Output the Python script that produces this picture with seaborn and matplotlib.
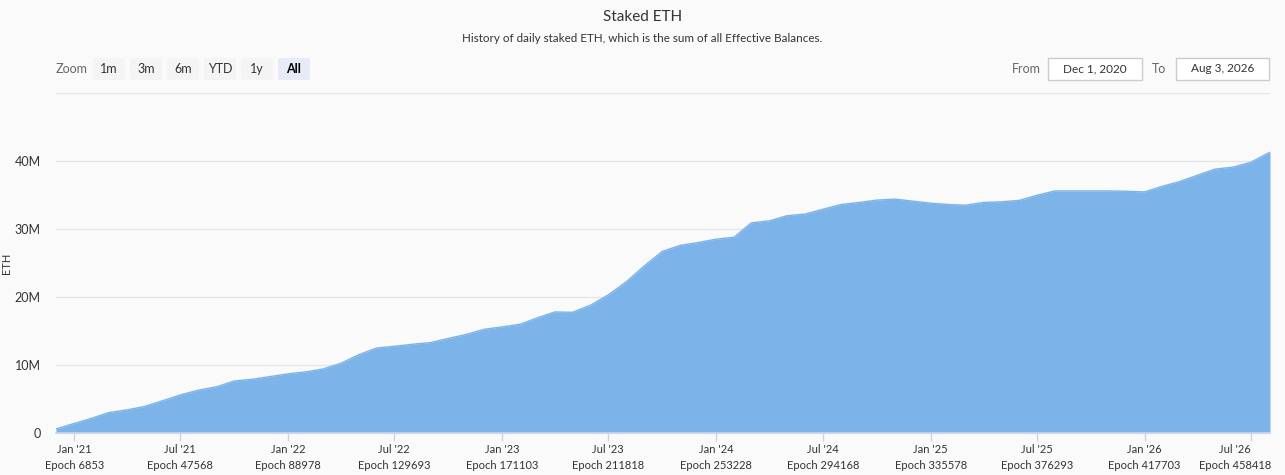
import matplotlib.pyplot as plt
import matplotlib.patches as mpatches
import matplotlib.transforms as mtransforms
import seaborn as sns
import pandas as pd

# monthly staked ETH (millions)
dates = [
    "2020-12-01", "2021-01-01", "2021-02-01", "2021-03-01", "2021-04-01", "2021-05-01",
    "2021-06-01", "2021-07-01", "2021-08-01", "2021-09-01", "2021-10-01", "2021-11-01",
    "2021-12-01", "2022-01-01", "2022-02-01", "2022-03-01", "2022-04-01", "2022-05-01",
    "2022-06-01", "2022-07-01", "2022-08-01", "2022-09-01", "2022-10-01", "2022-11-01",
    "2022-12-01", "2023-01-01", "2023-02-01", "2023-03-01", "2023-04-01", "2023-05-01",
    "2023-06-01", "2023-07-01", "2023-08-01", "2023-09-01", "2023-10-01", "2023-11-01",
    "2023-12-01", "2024-01-01", "2024-02-01", "2024-03-01", "2024-04-01", "2024-05-01",
    "2024-06-01", "2024-07-01", "2024-08-01", "2024-09-01", "2024-10-01", "2024-11-01",
    "2024-12-01", "2025-01-01", "2025-02-01", "2025-03-01", "2025-04-01", "2025-05-01",
    "2025-06-01", "2025-07-01", "2025-08-01", "2025-09-01", "2025-10-01", "2025-11-01",
    "2025-12-01", "2026-01-01", "2026-02-01", "2026-03-01", "2026-04-01", "2026-05-01",
    "2026-06-01", "2026-07-01", "2026-08-03",
]
staked_m = [
    0.6, 1.4, 2.2, 3.0, 3.4, 3.9,
    4.75, 5.6, 6.3, 6.8, 7.65, 7.9,
    8.3, 8.7, 9.0, 9.4, 10.25, 11.5,
    12.5, 12.75, 13.05, 13.3, 13.9, 14.5,
    15.25, 15.6, 16.0, 16.9, 17.8, 17.75,
    18.8, 20.3, 22.25, 24.6, 26.7, 27.6,
    28.0, 28.5, 28.8, 30.9, 31.2, 31.95,
    32.2, 32.9, 33.6, 33.9, 34.25, 34.4,
    34.1, 33.8, 33.6, 33.5, 33.9, 34.0,
    34.2, 34.95, 35.6, 35.6, 35.6, 35.6,
    35.55, 35.45, 36.3, 36.95, 37.9, 38.8,
    39.1, 39.8, 41.3,
]

tick_dates = ["2021-01-01", "2021-07-01", "2022-01-01", "2022-07-01", "2023-01-01", "2023-07-01",
              "2024-01-01", "2024-07-01", "2025-01-01", "2025-07-01", "2026-01-01", "2026-07-01"]
tick_months = ["Jan '21", "Jul '21", "Jan '22", "Jul '22", "Jan '23", "Jul '23",
               "Jan '24", "Jul '24", "Jan '25", "Jul '25", "Jan '26", "Jul '26"]
tick_epochs = [6853, 47568, 88978, 129693, 171103, 211818,
               253228, 294168, 335578, 376293, 417703, 458418]

y_ticks = [0, 10, 20, 30, 40, 50]
y_labels = ["0", "10M", "20M", "30M", "40M", ""]

zoom_buttons = ["1m", "3m", "6m", "YTD", "1y", "All"]

df = pd.DataFrame({"date": pd.to_datetime(dates), "eth": staked_m})

sns.set_theme(style="white")
plt.rcParams["font.family"] = ["Lato", "DejaVu Sans"]

bg = "#fafafa"
fill = "#7cb4ea"
text = "#333333"
W, H = 1285, 475

fig = plt.figure(figsize=(12.85, 4.75), dpi=100, facecolor=bg)
ax = fig.add_axes([56 / W, 42 / H, 1214 / W, 340 / H])
ax.set_facecolor(bg)

sns.lineplot(data=df, x="date", y="eth", ax=ax, color=fill, linewidth=1.0)
ax.fill_between(df["date"], df["eth"], 0, color=fill, linewidth=0, zorder=2)

ax.set_xlim(pd.Timestamp("2020-12-01"), pd.Timestamp("2026-08-03"))
ax.set_ylim(0, 50)

ax.set_yticks(y_ticks)
ax.set_yticklabels(y_labels, fontsize=9, color=text)
ax.yaxis.grid(True, color="#e6e6e6", linewidth=1.0)
ax.set_axisbelow(True)
ax.tick_params(axis="y", length=0, pad=11)

ax.set_xticks(pd.to_datetime(tick_dates))
ax.set_xticklabels([f"{m}\nEpoch {e}" for m, e in zip(tick_months, tick_epochs)],
                   fontsize=8, color=text, linespacing=1.5)
ax.tick_params(axis="x", length=6, color="#ccd6eb", width=1, pad=2, bottom=True)
# last label is pushed left so it stays inside the plot width
last = ax.get_xticklabels()[-1]
last.set_transform(last.get_transform() + mtransforms.ScaledTranslation(-16 / 100, 0, fig.dpi_scale_trans))

for side in ["top", "right", "left"]:
    ax.spines[side].set_visible(False)
ax.spines["bottom"].set_color("#ccd6eb")
ax.spines["bottom"].set_linewidth(1.2)
ax.spines["bottom"].set_zorder(3)

ax.set_xlabel("")
ax.set_ylabel("ETH", fontsize=8, color=text)
ax.yaxis.set_label_coords(-44 / 1214, 0.5)

# title block
fig.text(0.5, 1 - 17 / H, "Staked ETH", ha="center", va="center", fontsize=11, color=text)
fig.text(0.5, 1 - 38 / H, "History of daily staked ETH, which is the sum of all Effective Balances.",
         ha="center", va="center", fontsize=8.4, color=text)

# range selector row
fig.text(56 / W, 1 - 69 / H, "Zoom", ha="left", va="center", fontsize=9, color="#666666")
for i, lab in enumerate(zoom_buttons):
    x0 = 93 + i * 37
    sel = lab == "All"
    fig.patches.append(mpatches.FancyBboxPatch(
        (x0 / W, 1 - 80 / H), 32 / W, 22 / H, boxstyle="round,pad=0,rounding_size=0.003",
        transform=fig.transFigure, facecolor="#e6ebf5" if sel else "#f4f4f4", edgecolor="none"))
    fig.text((x0 + 16) / W, 1 - 69 / H, lab, ha="center", va="center", fontsize=9,
             color="#000000" if sel else text, fontweight="bold" if sel else "normal")

fig.text(1041 / W, 1 - 69 / H, "From", ha="right", va="center", fontsize=9, color="#666666")
fig.text(1166 / W, 1 - 69 / H, "To", ha="right", va="center", fontsize=9, color="#666666")
for x0, x1, lab in [(1048, 1142, "Dec 1, 2020"), (1176, 1269, "Aug 3, 2026")]:
    fig.patches.append(mpatches.Rectangle(
        (x0 / W, 1 - 80 / H), (x1 - x0) / W, 22 / H, transform=fig.transFigure,
        facecolor="white", edgecolor="#cccccc", linewidth=1))
    fig.text((x0 + x1) / 2 / W, 1 - 69 / H, lab, ha="center", va="center", fontsize=8.5, color=text)

fig.savefig("out.png", dpi=100, facecolor=bg)
